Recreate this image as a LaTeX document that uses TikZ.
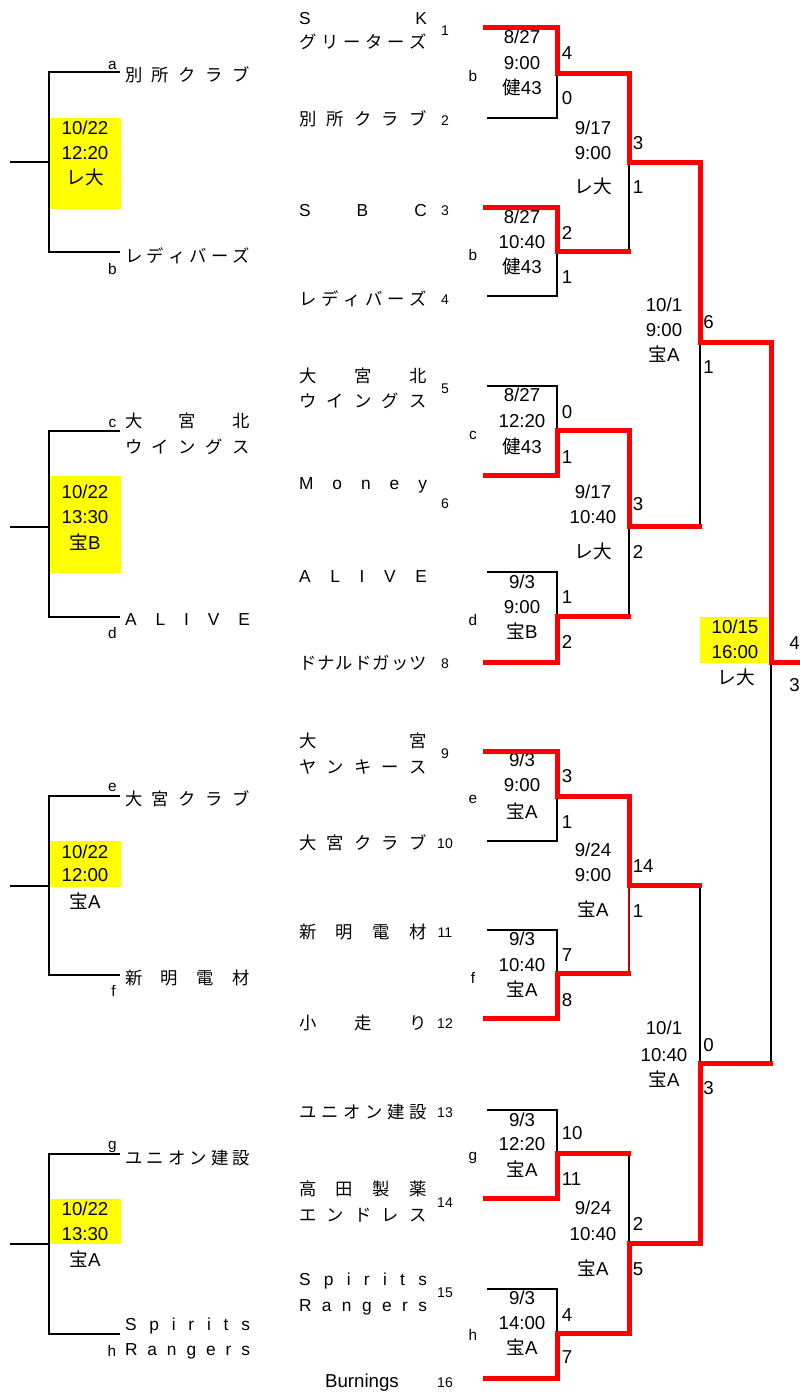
\documentclass[tikz,border=0pt]{standalone}
\usepackage{fontspec}
\setmainfont{Liberation Sans}
\newfontfamily\jp{Noto Sans CJK JP}
\definecolor{myred}{RGB}{255,0,0}
\definecolor{dkred}{RGB}{190,0,0}
\definecolor{myyellow}{RGB}{255,255,0}
\tikzset{
 nm/.style={inner sep=0pt, text height=9.6pt, text depth=0pt, font=\fontsize{13}{15}\selectfont},
 dt/.style={inner sep=0pt, text height=10pt, text depth=0pt, font=\fontsize{14}{16}\selectfont},
 sc/.style={dt, anchor=west},
 no/.style={inner sep=0pt, text height=7.5pt, text depth=0pt, font=\fontsize{10.5}{12}\selectfont},
 lb/.style={inner sep=0pt, anchor=base, font=\fontsize{11.5}{13}\selectfont},
 bk/.style={draw=black, line width=1.2pt},
 bkl/.style={draw=black, line width=1.6pt},
 rd/.style={draw=myred, line width=3.75pt, line join=miter},
 thinred/.style={draw=dkred, line width=1.2pt},
 yb/.style={fill=myyellow, draw=none},
}
\newcommand\mnm[3]{\node[nm] (#1) at (363,#2) {\makebox[96pt][s]{#3}};}
\newcommand\lnm[3]{\node[nm] (#1) at (187.5,#2) {\makebox[93.75pt][s]{#3}};}
\begin{document}
\begin{tikzpicture}[x=0.75pt,y=-0.75pt]
\useasboundingbox (0,0) rectangle (800,1393);
% yellow boxes
\path[yb] (50,118) rectangle (121,209);
\path[yb] (50,476) rectangle (121,573);
\path[yb] (50,841) rectangle (121,887);
\path[yb] (50,1199) rectangle (121,1244);
\path[yb] (700,617) rectangle (768,663);

% ---------- left column ----------
\node[dt] (L1a) at (85,128) {10/22};
\node[dt] (L1b) at (85,153) {12:20};
\node[dt] (L1c) at (85,178) {\jp レ大};
\node[dt] (L2a) at (85,492) {10/22};
\node[dt] (L2b) at (85,517) {13:30};
\node[dt] (L2c) at (85,543) {{\jp 宝}B};
\node[dt] (L3a) at (85,852) {10/22};
\node[dt] (L3b) at (85,875) {12:00};
\node[dt] (L3c) at (85,902) {{\jp 宝}A};
\node[dt] (L4a) at (85,1209) {10/22};
\node[dt] (L4b) at (85,1234) {13:30};
\node[dt] (L4c) at (85,1260) {{\jp 宝}A};

\node[lb] (la) at (112.5,69.5) {a};
\node[lb] (lb) at (112.5,274) {b};
\node[lb] (lc) at (112.5,427.7) {c};
\node[lb] (ld) at (112.5,638) {d};
\node[lb] (le) at (112.5,791.7) {e};
\node[lb] (lf) at (113.5,996) {f};
\node[lb] (lg) at (112.5,1149) {g};
\node[lb] (lh) at (112,1356) {h};

\lnm{t1}{75}{\jp 別\hfill 所\hfill ク\hfill ラ\hfill ブ}
\lnm{t2}{256}{\jp レ\hfill デ\hfill ィ\hfill バ\hfill ー\hfill ズ}
\lnm{t3a}{421}{\jp 大\hfill 宮\hfill 北}
\lnm{t3b}{447.5}{\jp ウ\hfill イ\hfill ン\hfill グ\hfill ス}
\lnm{t4}{619}{A\hfill L\hfill I\hfill V\hfill E}
\lnm{t5}{799.5}{\jp 大\hfill 宮\hfill ク\hfill ラ\hfill ブ}
\lnm{t6}{978}{\jp 新\hfill 明\hfill 電\hfill 材}
\lnm{t7}{1158}{\jp ユ\hfill ニ\hfill オ\hfill ン\hfill 建\hfill 設}
\lnm{t8a}{1324}{S\hfill p\hfill i\hfill r\hfill i\hfill t\hfill s}
\lnm{t8b}{1349}{R\hfill a\hfill n\hfill g\hfill e\hfill r\hfill s}

\draw[bkl] (120,72) -- (49,72) -- (49,252) -- (120,252);
\draw[bkl] (10,162) -- (49,162);
\draw[bkl] (120,431) -- (49,431) -- (49,617) -- (120,617);
\draw[bkl] (10,527) -- (49,527);
\draw[bkl] (120,796) -- (49,796) -- (49,975) -- (120,975);
\draw[bkl] (10,886) -- (49,886);
\draw[bkl] (120,1154) -- (49,1154) -- (49,1334) -- (120,1334);
\draw[bkl] (10,1244) -- (49,1244);

% ---------- middle team names ----------
\mnm{m1a}{18}{S\hfill K}
\mnm{m1b}{42.5}{\jp グ\hfill リ\hfill ー\hfill タ\hfill ー\hfill ズ}
\mnm{m2}{119.5}{\jp 別\hfill 所\hfill ク\hfill ラ\hfill ブ}
\mnm{m3}{210}{S\hfill B\hfill C}
\mnm{m4}{299}{\jp レ\hfill デ\hfill ィ\hfill バ\hfill ー\hfill ズ}
\mnm{m5a}{376}{\jp 大\hfill 宮\hfill 北}
\mnm{m5b}{401.5}{\jp ウ\hfill イ\hfill ン\hfill グ\hfill ス}
\mnm{m6}{483}{M\hfill o\hfill n\hfill e\hfill y}
\mnm{m7}{576}{A\hfill L\hfill I\hfill V\hfill E}
\mnm{m8}{663}{\jp ド\hfill ナ\hfill ル\hfill ド\hfill ガ\hfill ッ\hfill ツ}
\mnm{m9a}{741}{\jp 大\hfill 宮}
\mnm{m9b}{767}{\jp ヤ\hfill ン\hfill キ\hfill ー\hfill ス}
\mnm{m10}{843}{\jp 大\hfill 宮\hfill ク\hfill ラ\hfill ブ}
\mnm{m11}{932}{\jp 新\hfill 明\hfill 電\hfill 材}
\mnm{m12}{1023}{\jp 小\hfill 走\hfill り}
\mnm{m13}{1112}{\jp ユ\hfill ニ\hfill オ\hfill ン\hfill 建\hfill 設}
\mnm{m14a}{1189}{\jp 高\hfill 田\hfill 製\hfill 薬}
\mnm{m14b}{1215}{\jp エ\hfill ン\hfill ド\hfill レ\hfill ス}
\mnm{m15a}{1279}{S\hfill p\hfill i\hfill r\hfill i\hfill t\hfill s}
\mnm{m15b}{1305}{R\hfill a\hfill n\hfill g\hfill e\hfill r\hfill s}
\node[nm, font=\fontsize{14}{16}\selectfont, text height=10pt] (m16) at (362,1381) {Burnings};

% team numbers
\node[no] (n1) at (445,30) {1};
\node[no] (n2) at (445,120) {2};
\node[no] (n3) at (445,210) {3};
\node[no] (n4) at (445,299) {4};
\node[no] (n5) at (445,388) {5};
\node[no] (n6) at (445,503) {6};
\node[no] (n8) at (445,663) {8};
\node[no] (n9) at (445,753) {9};
\node[no] (n10) at (445,843) {10};
\node[no] (n11) at (445,932) {11};
\node[no] (n12) at (445,1023) {12};
\node[no] (n13) at (445,1112) {13};
\node[no] (n14) at (445,1202) {14};
\node[no] (n15) at (445,1292) {15};
\node[no] (n16) at (445,1382) {16};

% middle labels
\node[lb] (mb1) at (473,81) {b};
\node[lb] (mb2) at (473,260) {b};
\node[lb] (mc) at (473,439) {c};
\node[lb] (md) at (473,625) {d};
\node[lb] (me) at (473,803) {e};
\node[lb] (mf) at (473,983) {f};
\node[lb] (mg) at (473,1160) {g};
\node[lb] (mh) at (473,1340.7) {h};

% ---------- match texts ----------
\node[dt] (M1a) at (522,37) {8/27};
\node[dt] (M1b) at (522,63) {9:00};
\node[dt] (M1c) at (522,88) {{\jp 健}43};
\node[dt] (M2a) at (522,217) {8/27};
\node[dt] (M2b) at (522,242) {10:40};
\node[dt] (M2c) at (522,267) {{\jp 健}43};
\node[dt] (M3a) at (522,395) {8/27};
\node[dt] (M3b) at (522,421) {12:20};
\node[dt] (M3c) at (522,447) {{\jp 健}43};
\node[dt] (M4a) at (522,582) {9/3};
\node[dt] (M4b) at (522,607) {9:00};
\node[dt] (M4c) at (522,632) {{\jp 宝}B};
\node[dt] (M5a) at (522,760) {9/3};
\node[dt] (M5b) at (522,785) {9:00};
\node[dt] (M5c) at (522,812) {{\jp 宝}A};
\node[dt] (M6a) at (522,939) {9/3};
\node[dt] (M6b) at (522,965) {10:40};
\node[dt] (M6c) at (522,990) {{\jp 宝}A};
\node[dt] (M7a) at (522,1120) {9/3};
\node[dt] (M7b) at (522,1144) {12:20};
\node[dt] (M7c) at (522,1170) {{\jp 宝}A};
\node[dt] (M8a) at (522,1298) {9/3};
\node[dt] (M8b) at (522,1323) {14:00};
\node[dt] (M8c) at (522,1348) {{\jp 宝}A};

\node[dt] (R1a) at (593,128) {9/17};
\node[dt] (R1b) at (593,153) {9:00};
\node[dt] (R1c) at (593,187) {\jp レ大};
\node[dt] (R2a) at (593,492) {9/17};
\node[dt] (R2b) at (593,517) {10:40};
\node[dt] (R2c) at (593,552) {\jp レ大};
\node[dt] (R3a) at (593,850) {9/24};
\node[dt] (R3b) at (593,875) {9:00};
\node[dt] (R3c) at (593,910) {{\jp 宝}A};
\node[dt] (R4a) at (593,1208) {9/24};
\node[dt] (R4b) at (593,1234) {10:40};
\node[dt] (R4c) at (593,1269) {{\jp 宝}A};

\node[dt] (S1a) at (664,305) {10/1};
\node[dt] (S1b) at (664,330) {9:00};
\node[dt] (S1c) at (664,355) {{\jp 宝}A};
\node[dt] (S2a) at (664,1028) {10/1};
\node[dt] (S2b) at (664,1055) {10:40};
\node[dt] (S2c) at (664,1080) {{\jp 宝}A};

\node[dt] (Fa) at (735,627) {10/15};
\node[dt] (Fb) at (735,652) {16:00};
\node[dt] (Fc) at (736,678) {\jp レ大};

% ---------- scores ----------
\node[sc] (s1a) at (561.5,53) {4};
\node[sc] (s1b) at (561.5,98) {0};
\node[sc] (s2a) at (561.5,233) {2};
\node[sc] (s2b) at (561.5,277) {1};
\node[sc] (s3a) at (561.5,412) {0};
\node[sc] (s3b) at (561.5,457) {1};
\node[sc] (s4a) at (561.5,597) {1};
\node[sc] (s4b) at (561.5,642) {2};
\node[sc] (s5a) at (561.5,776) {3};
\node[sc] (s5b) at (561.5,822) {1};
\node[sc] (s6a) at (561.5,955) {7};
\node[sc] (s6b) at (561.5,1000) {8};
\node[sc] (s7a) at (561.5,1133) {10};
\node[sc] (s7b) at (561.5,1179) {11};
\node[sc] (s8a) at (561.5,1315) {4};
\node[sc] (s8b) at (561.5,1357) {7};
\node[sc] (r1a) at (632.5,143) {3};
\node[sc] (r1b) at (632.5,187) {1};
\node[sc] (r2a) at (632.5,504) {3};
\node[sc] (r2b) at (632.5,552) {2};
\node[sc] (r3a) at (632.5,866) {14};
\node[sc] (r3b) at (632.5,911) {1};
\node[sc] (r4a) at (632.5,1224) {2};
\node[sc] (r4b) at (632.5,1269) {5};
\node[sc] (q1a) at (703,322) {6};
\node[sc] (q1b) at (703,367) {1};
\node[sc] (q2a) at (703,1045) {0};
\node[sc] (q2b) at (703,1088) {3};
\node[sc] (fa) at (789,643) {4};
\node[sc] (fb) at (789,685) {3};

% ---------- black lines ----------
\draw[bk] (487,118) -- (557,118) -- (557,73);
\draw[bk] (487,296) -- (557,296) -- (557,251);
\draw[bk] (629,162) -- (629,251);
\draw[bk] (700,342) -- (700,526);
\draw[bk] (487,386) -- (557,386) -- (557,430);
\draw[bk] (629,526) -- (629,616);
\draw[bk] (487,572) -- (557,572) -- (557,616);
\draw[bk] (487,841) -- (557,841) -- (557,796);
\draw[thinred] (629,885) -- (629,973);
\draw[bk] (487,930) -- (557,930) -- (557,973);
\draw[bk] (700,885) -- (700,1063);
\draw[bk] (771,662) -- (771,1063);
\draw[bk] (487,1110) -- (557,1110) -- (557,1153);
\draw[bk] (629,1153) -- (629,1243);
\draw[bk] (487,1289) -- (557,1289) -- (557,1333);

% ---------- red lines ----------
\draw[rd] (483,27.5) -- (557,27.5) -- (557,73) -- (629,73) -- (629,162) -- (700,162) -- (700,342) -- (771,342) -- (771,662) -- (800,662);
\draw[rd] (483,207) -- (557,207) -- (557,251) -- (631,251);
\draw[rd] (483,475) -- (557,475) -- (557,430) -- (629,430) -- (629,526) -- (702,526);
\draw[rd] (483,662) -- (557,662) -- (557,616) -- (631,616);
\draw[rd] (483,751) -- (557,751) -- (557,796) -- (629,796) -- (629,885) -- (702,885);
\draw[rd] (483,1018) -- (557,1018) -- (557,973) -- (631,973);
\draw[rd] (483,1198) -- (557,1198) -- (557,1153) -- (631,1153);
\draw[rd] (483,1378) -- (557,1378) -- (557,1333) -- (629,1333) -- (629,1243) -- (700,1243) -- (700,1063) -- (773,1063);
\end{tikzpicture}
\end{document}
